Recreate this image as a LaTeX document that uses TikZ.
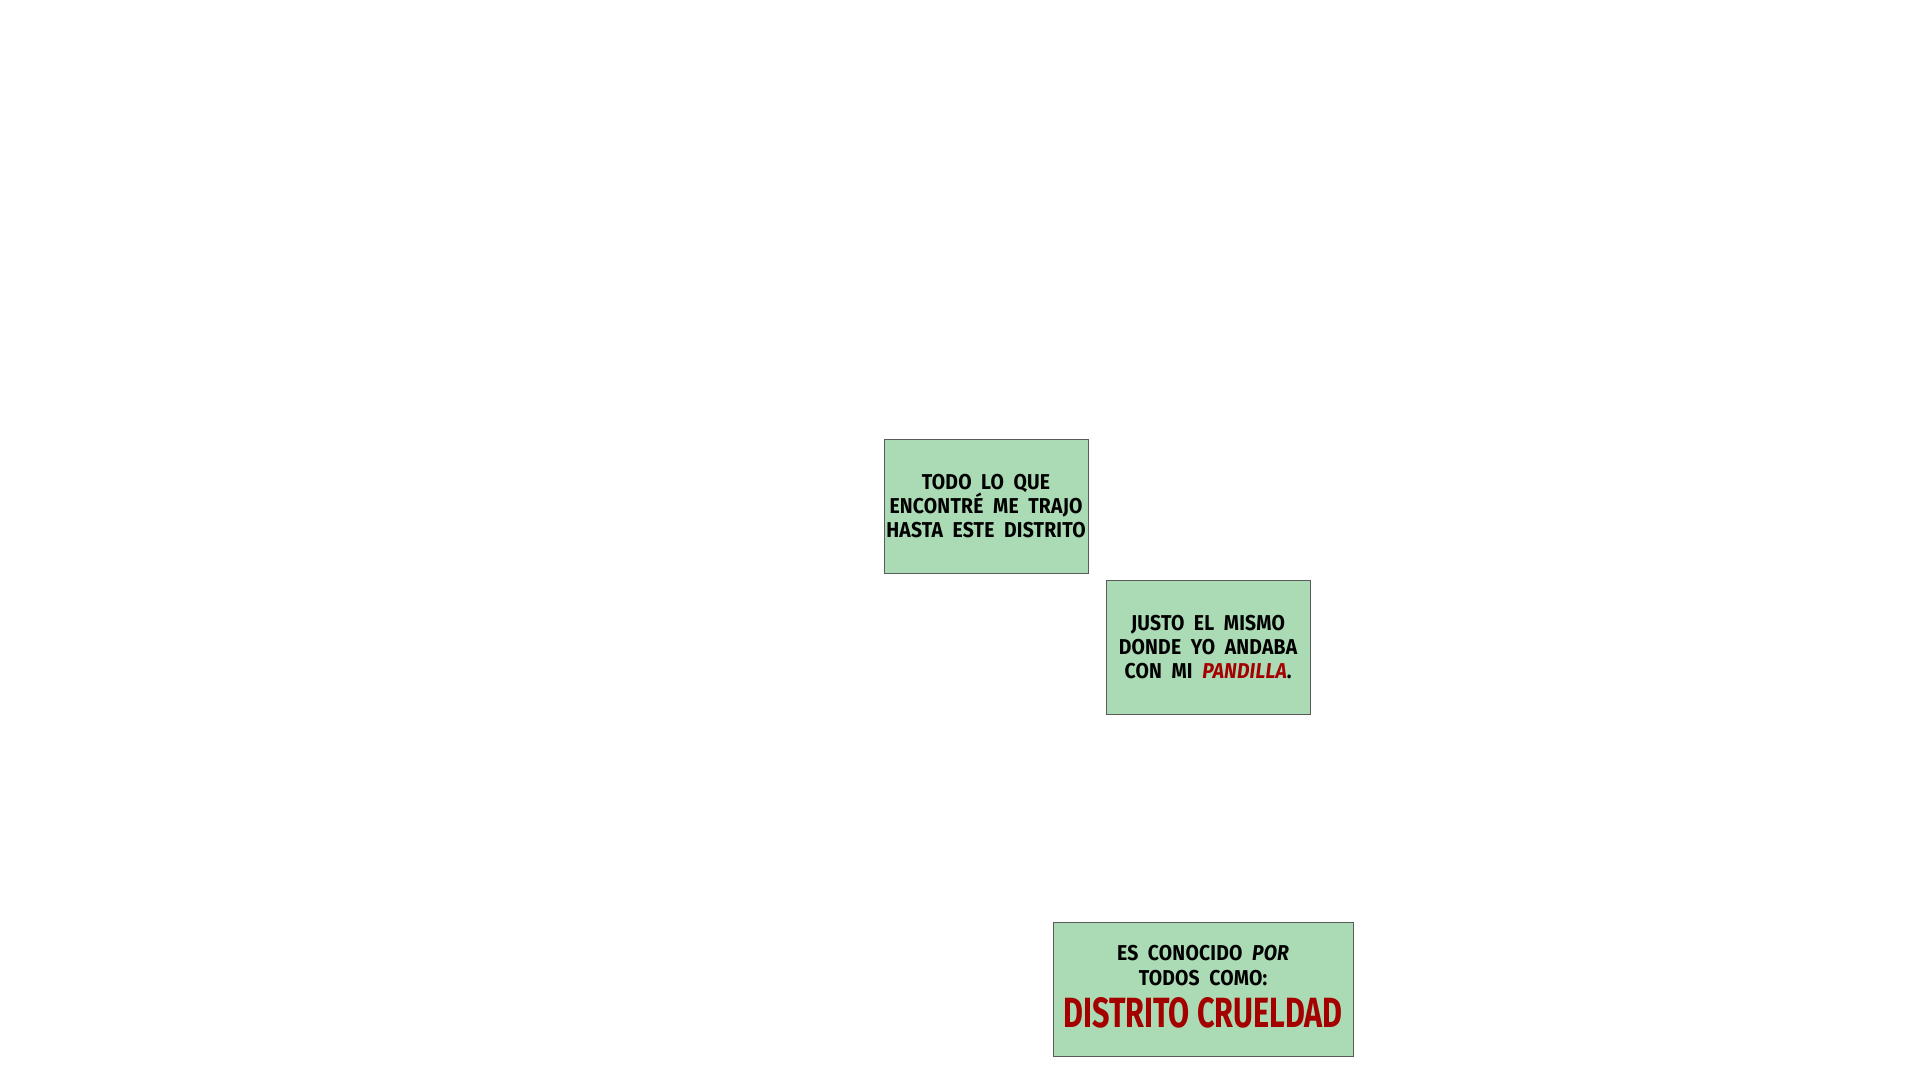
\documentclass[tikz,border=0pt]{standalone}
\usepackage{fontspec}
\setmainfont{Fira Sans}[FakeStretch=0.9,LetterSpace=1,WordSpace=2]
\newfontfamily\bigfont{Fira Sans}
\usetikzlibrary{positioning}
\definecolor{boxfill}{RGB}{171,219,181}
\definecolor{boxline}{RGB}{90,90,90}
\definecolor{txtred}{RGB}{165,0,0}
\tikzset{
  panel/.style={draw=boxline, line width=1pt, fill=boxfill, inner sep=0pt,
    align=center, font=\fontsize{21.5}{24}\selectfont\bfseries, text=black},
  paneltext/.style={inner sep=0pt, align=center,
    font=\fontsize{21.5}{25}\selectfont\bfseries, text=black},
}
\begin{document}
\begin{tikzpicture}[x=1pt,y=-1pt]
\useasboundingbox[fill=white] (0,0) rectangle (1920,1080);
\node[panel, minimum width=204pt, minimum height=134pt] (b1) at (986,506)
  {TODO LO QUE\\ENCONTRÉ ME TRAJO\\HASTA ESTE DISTRITO};
\node[panel, minimum width=204pt, minimum height=134pt] (b2) at (1208,647)
  {JUSTO EL MISMO\\DONDE YO ANDABA\\CON MI {\color{txtred}\itshape PANDILLA}.};
\node[panel, minimum width=300pt, minimum height=134pt] (b3) at (1203,989) {};
\node[paneltext] (t3) at (b3.center) [yshift=2.5pt]
  {ES CONOCIDO {\itshape POR}\\TODOS COMO:\\[11pt]{\color{txtred}\resizebox{279pt}{30pt}{\bigfont\bfseries DISTRITO CRUELDAD}}};
\end{tikzpicture}
\end{document}
